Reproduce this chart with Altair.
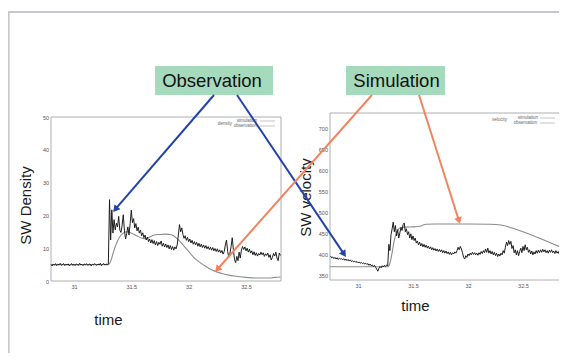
import math
import altair as alt
import pandas as pd

# ---------------- data ----------------
# left panel: SW density, observation sampled every 0.01 starting at dens_t0
dens_t0 = 30.80
dens_obs = [
    5.0, 4.6, 5.2, 4.8, 5.3, 4.7, 5.1, 4.9, 5.4, 4.8,
    5.0, 5.3, 4.7, 5.1, 4.9, 5.2, 4.6, 5.0, 5.3, 4.8,
    5.1, 4.7, 5.2, 5.0, 4.8, 5.4, 4.9, 5.1, 4.7, 5.2,
    4.9, 5.3, 4.8, 5.0, 5.2, 4.6, 5.1, 4.9, 5.3, 5.0,
    4.8, 5.2, 4.9, 5.4, 4.7, 5.1, 5.3, 4.9, 5.2, 5.0,
    5.2,
    24.8, 12.5, 21.7, 14.6, 18.7, 15.6, 17.6, 16.5, 19.7, 15.5,
    14.8, 17.0, 20.2, 15.5, 12.8, 14.5, 16.5, 14.0, 17.5, 21.6,
    17.8, 19.0, 16.2, 17.5, 15.3, 16.4, 14.6, 15.5, 13.8, 14.7,
    13.2, 14.0, 12.5, 13.4, 12.0, 12.8, 11.6, 12.6, 11.4, 12.3,
    11.0, 12.0, 10.8, 11.8, 11.2, 12.2, 10.6, 11.5, 10.4, 11.3,
    10.2, 11.0, 9.8, 10.8, 9.6, 10.5, 9.4, 10.4, 9.8, 11.0,
    14.0, 17.2, 15.0, 16.2, 14.2, 13.0, 13.8, 12.4, 13.3, 12.0,
    12.8, 11.6, 12.4, 11.2, 12.0, 11.0, 11.8, 10.6, 11.5, 10.4,
    11.2, 10.2, 11.0, 10.0, 10.8, 9.8, 10.5, 9.6, 10.3, 9.4,
    10.2, 9.2, 9.9, 9.0, 9.8, 8.8, 9.5, 8.6, 9.3, 8.2,
    9.0, 11.0, 12.5, 9.0, 7.2, 8.5, 10.5, 13.2, 9.5, 6.5,
    5.6, 7.5, 6.2, 8.8, 7.0, 9.5, 10.5, 9.6, 10.4, 9.2,
    10.0, 8.8, 9.7, 8.5, 9.2, 8.0, 8.9, 7.8, 8.6, 7.6,
    8.4, 7.9, 8.8, 8.0, 8.6, 7.5, 8.3, 7.8, 8.5, 7.2,
    8.0, 6.4, 7.2, 8.4, 7.6, 8.8, 7.0, 6.2, 8.5, 7.8,
]
dens_sim_t = [30.80, 31.30, 31.32, 31.34, 31.36, 31.38, 31.40, 31.43, 31.46, 31.50,
              31.55, 31.60, 31.63, 31.66, 31.70, 31.75, 31.80, 31.85, 31.88, 31.92,
              31.96, 32.00, 32.05, 32.10, 32.15, 32.20, 32.25, 32.30, 32.35, 32.40,
              32.50, 32.60, 32.70, 32.75, 32.80]
dens_sim = [5.0, 5.0, 6.0, 8.3, 10.5, 12.2, 13.5, 14.6, 15.0, 14.6,
            13.7, 13.0, 12.9, 13.4, 14.0, 14.2, 14.3, 14.1, 13.5, 12.2,
            10.6, 9.0, 7.0, 5.6, 4.4, 3.4, 2.7, 2.2, 1.8, 1.5,
            1.1, 0.9, 0.9, 1.1, 1.2]

# right panel: SW velocity, observation sampled every 0.01 starting at vel_t0
vel_t0 = 30.75
vel_obs = [
    397, 393, 395, 391, 394, 390, 393, 389, 392, 390,
    391, 388, 391, 387, 390, 386, 389, 385, 388, 384,
    386, 383, 385, 382, 384, 381, 383, 380, 382, 379,
    381, 378, 380, 377, 379, 375, 378, 374, 376, 372,
    375, 370, 366, 361, 368, 372, 369, 374, 371, 375,
    372, 376, 374,
    425, 410, 448, 462, 478, 455, 470, 445, 460, 440,
    452, 465, 458, 472, 476, 455, 462, 448, 455, 440,
    450, 436, 445, 434, 440, 428, 433, 424, 430, 421,
    427, 419, 425, 418, 423, 416, 421, 414, 419, 412,
    417, 411, 415, 409, 414, 408, 413, 407, 412, 405,
    410, 404, 409, 403, 407, 401, 406, 400, 405, 402,
    407, 404, 410, 418, 412, 420, 414, 405, 394, 390,
    398, 394, 402, 398, 404, 400, 406, 401, 405, 400,
    404, 399, 405, 401, 408, 403, 410, 405, 414, 406,
    416, 404, 410, 402, 408, 400, 406, 398, 404, 396,
    402, 397, 404, 400, 410, 404, 418, 430, 422, 434,
    425, 432, 415, 422, 405, 412, 400, 410, 398, 408,
    416, 405, 420, 410, 424, 412, 418, 406, 412, 402,
    409, 400, 407, 402, 410, 404, 411, 405, 412, 406,
    413, 407, 412, 405, 410, 404, 411, 406, 412, 405,
    409, 403, 410, 404, 408, 402, 409, 403, 407,
]
vel_sim_t = [30.745, 31.27, 31.29, 31.31, 31.33, 31.36, 31.39, 31.43, 31.50, 31.56,
             31.62, 31.70, 32.00, 32.20, 32.30, 32.42, 32.55, 32.70, 32.864]
vel_sim = [371.5, 371.5, 380, 405, 435, 458, 465, 466, 466.5, 468,
           473, 473.5, 473.5, 473, 471, 462, 450, 434, 416]

time_ticks = [31, 31.5, 32, 32.5]
dens_ticks = [0, 10, 20, 30, 40, 50]
vel_ticks = [350, 400, 450, 500, 550, 600, 650, 700]
dens_xdom = [30.80, 32.805]
dens_ydom = [0, 50]
vel_xdom = [30.745, 32.864]
vel_ydom = [340, 738]

# annotation texts
box_labels = ["Observation", "Simulation"]
legend_labels = ["density", "simulation", "observation", "velocity", "simulation", "observation"]

# ---------------- layout (pixels) ----------------
W, H = 551, 345
dens_xr = [43, 273]
dens_yr = [273, 109]
vel_xr = [322, 555]
vel_yr = [272, 105]

box_x = [147, 338]
box_x2 = [265, 437]
box_y = [58, 58]
box_y2 = [87, 87]
box_tx = [204, 388.5]
box_ty = [72.5, 72.5]
box_fill = "#a6dabd"

arrow_x1 = [206, 229, 364, 411]
arrow_y1 = [87, 87, 87, 87]
arrow_x2 = [105, 338, 207, 452]
arrow_y2 = [204, 249, 264, 216]
arrow_col = ["#2443a9", "#2443a9", "#f2835f", "#f2835f"]

leg_tx = [224, 249, 249, 499, 530, 529]
leg_ty = [116, 113, 118, 112, 110, 115]
leg_lx = [252, 252, 532, 532]
leg_lx2 = [267, 267, 547, 547]
leg_ly = [113, 118, 110, 115]

FONT = "Liberation Sans"


def series(t0, vals):
    return pd.DataFrame({"t": [round(t0 + i * 0.01, 3) for i in range(len(vals))], "v": vals})


def panel(obs_df, sim_df, xdom, ydom, xr, yr, yticks, ytitle, ytitle_xy, xtitle_xy):
    xenc = alt.X(
        "t:Q",
        scale=alt.Scale(domain=xdom, range=xr, nice=False, zero=False),
        axis=alt.Axis(
            orient="bottom", offset=yr[0] - H, values=time_ticks, format="~g",
            ticks=False, tickSize=0, domain=False, grid=False,
            labelFont=FONT, labelFontSize=5.5, labelColor="#555", labelPadding=3,
            title="time", titleFont=FONT, titleFontSize=15, titleFontWeight="normal",
            titleColor="#1a1a1a", titleX=xtitle_xy[0], titleY=xtitle_xy[1],
            titleAlign="center", titleBaseline="middle", titleAnchor="start",
        ),
    )
    yenc = alt.Y(
        "v:Q",
        scale=alt.Scale(domain=ydom, range=yr, nice=False, zero=False),
        axis=alt.Axis(
            orient="left", offset=-xr[0], values=yticks, format="d",
            ticks=False, tickSize=0, domain=False, grid=False,
            labelFont=FONT, labelFontSize=5.5, labelColor="#555", labelPadding=2.5,
            title=ytitle, titleFont=FONT, titleFontSize=15, titleFontWeight="normal",
            titleColor="#1a1a1a", titleX=ytitle_xy[0], titleY=ytitle_xy[1],
            titleAngle=270, titleAlign="center", titleBaseline="middle", titleAnchor="start",
        ),
    )
    frame_df = pd.DataFrame({"t": [xdom[0]], "t2": [xdom[1]], "v": [ydom[0]], "v2": [ydom[1]]})
    frame = alt.Chart(frame_df).mark_rect(fill="white", stroke="#9a9a9a", strokeWidth=0.8).encode(
        x=xenc, x2="t2:Q", y=yenc, y2="v2:Q"
    )
    sim = alt.Chart(sim_df).mark_line(color="#8c8c8c", strokeWidth=1.1, interpolate="monotone").encode(
        x=xenc, y=yenc, order="t:Q"
    )
    obs = alt.Chart(obs_df).mark_line(color="#1e1e1e", strokeWidth=1.0).encode(
        x=xenc, y=yenc, order="t:Q"
    )
    return alt.layer(frame, sim, obs)


left = panel(series(dens_t0, dens_obs), pd.DataFrame({"t": dens_sim_t, "v": dens_sim}),
             dens_xdom, dens_ydom, dens_xr, dens_yr, dens_ticks, "SW Density",
             (-26, 197), (100, 38))
right = panel(series(vel_t0, vel_obs), pd.DataFrame({"t": vel_sim_t, "v": vel_sim}),
              vel_xdom, vel_ydom, vel_xr, vel_yr, vel_ticks, "SW velocity",
              (-25, 189), (407, 25))

# ---------------- overlay in page pixels ----------------
px = alt.Scale(domain=[0, W], range=[0, W], nice=False, zero=False)
py = alt.Scale(domain=[0, H], range=[0, H], nice=False, zero=False)

border_df = pd.DataFrame({"x": [0.6, 0], "x2": [0.6, W], "y": [4, 4], "y2": [H, 4]})
border = alt.Chart(border_df).mark_rule(color="#c6c6cd", strokeWidth=2).encode(
    x=alt.X("x:Q", scale=px, axis=None), x2="x2:Q",
    y=alt.Y("y:Q", scale=py, axis=None), y2="y2:Q",
)

box_df = pd.DataFrame({"x": box_x, "x2": box_x2, "y": box_y, "y2": box_y2,
                       "tx": box_tx, "ty": box_ty, "label": box_labels})
boxes = alt.Chart(box_df).mark_rect(fill=box_fill).encode(
    x=alt.X("x:Q", scale=px, axis=None), x2="x2:Q",
    y=alt.Y("y:Q", scale=py, axis=None), y2="y2:Q",
)
box_text = alt.Chart(box_df).mark_text(font=FONT, fontSize=18.5, color="#111",
                                       align="center", baseline="middle").encode(
    x=alt.X("tx:Q", scale=px, axis=None), y=alt.Y("ty:Q", scale=py, axis=None), text="label:N"
)

rows = []
for x1, y1, x2, y2, c in zip(arrow_x1, arrow_y1, arrow_x2, arrow_y2, arrow_col):
    dx, dy = x2 - x1, y2 - y1
    L = math.hypot(dx, dy)
    ux, uy = dx / L, dy / L
    ang = math.degrees(math.atan2(dx, -dy)) % 360
    rows.append({"x": x1, "y": y1, "xe": x2 - 5 * ux, "ye": y2 - 5 * uy,
                 "hx": x2 - 3.5 * ux, "hy": y2 - 3.5 * uy, "ang": ang, "col": c})
arrow_df = pd.DataFrame(rows)
arrows = alt.Chart(arrow_df).mark_rule(strokeWidth=2).encode(
    x=alt.X("x:Q", scale=px, axis=None), x2="xe:Q",
    y=alt.Y("y:Q", scale=py, axis=None), y2="ye:Q",
    color=alt.Color("col:N", scale=None),
)
heads = alt.Chart(arrow_df).mark_point(shape="triangle-up", filled=True, size=60, opacity=1).encode(
    x=alt.X("hx:Q", scale=px, axis=None), y=alt.Y("hy:Q", scale=py, axis=None),
    angle=alt.Angle("ang:Q", scale=None),
    color=alt.Color("col:N", scale=None),
)

leg_df = pd.DataFrame({"x": leg_tx, "y": leg_ty, "label": legend_labels})
leg_text = alt.Chart(leg_df).mark_text(font=FONT, fontSize=4.5, color="#666",
                                       align="right", baseline="middle").encode(
    x=alt.X("x:Q", scale=px, axis=None), y=alt.Y("y:Q", scale=py, axis=None), text="label:N"
)
legl_df = pd.DataFrame({"x": leg_lx, "x2": leg_lx2, "y": leg_ly})
leg_lines = alt.Chart(legl_df).mark_rule(color="#aaa", strokeWidth=0.7).encode(
    x=alt.X("x:Q", scale=px, axis=None), x2="x2:Q", y=alt.Y("y:Q", scale=py, axis=None)
)

overlay = alt.layer(border, boxes, box_text, leg_text, leg_lines, arrows, heads)

chart = (
    alt.layer(left, right, overlay)
    .resolve_scale(x="independent", y="independent")
    .properties(width=W, height=H, padding=0, autosize=alt.AutoSizeParams(type="none"),
                background="white")
    .configure_view(stroke=None)
)

chart.save("out.html", embed_options={"renderer": "svg", "actions": False})
